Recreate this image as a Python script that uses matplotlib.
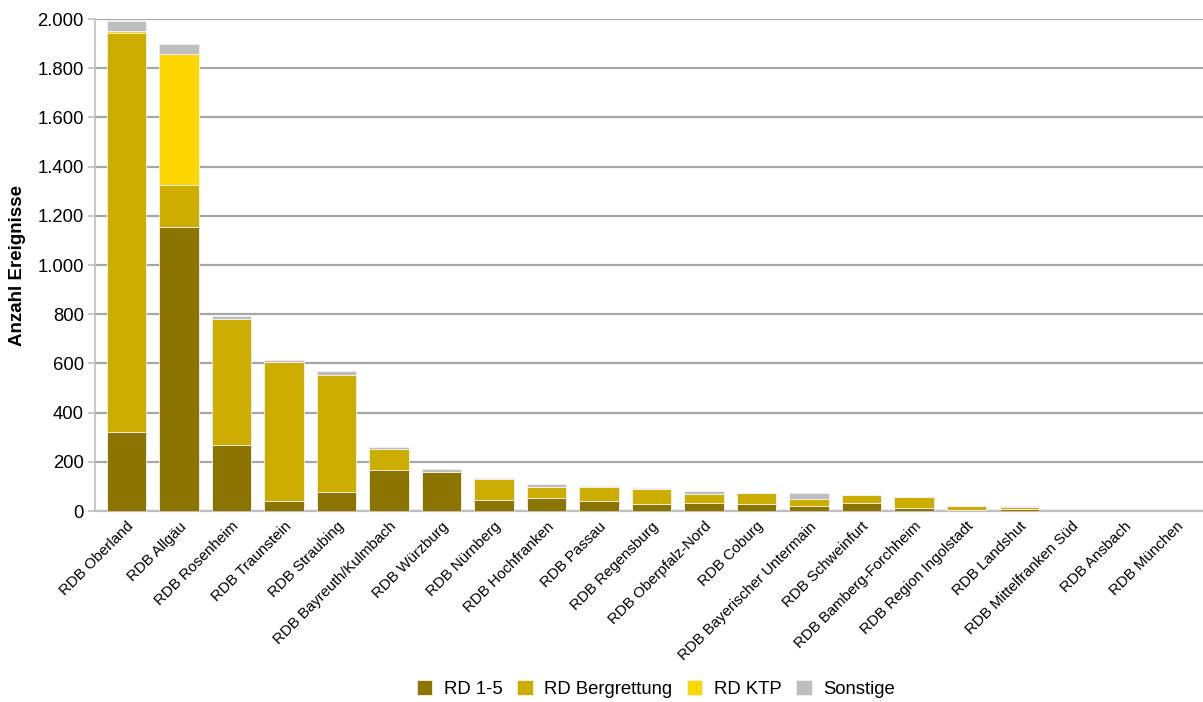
import matplotlib
matplotlib.use("Agg")
import matplotlib.pyplot as plt
import numpy as np
from matplotlib.ticker import FuncFormatter

plt.rcParams['font.family'] = ['Liberation Sans', 'DejaVu Sans']

# data
regions = ["RDB Oberland", "RDB Allgäu", "RDB Rosenheim", "RDB Traunstein",
           "RDB Straubing", "RDB Bayreuth/Kulmbach", "RDB Würzburg", "RDB Nürnberg",
           "RDB Hochfranken", "RDB Passau", "RDB Regensburg", "RDB Oberpfalz-Nord",
           "RDB Coburg", "RDB Bayerischer Untermain", "RDB Schweinfurt",
           "RDB Bamberg-Forchheim", "RDB Region Ingolstadt", "RDB Landshut",
           "RDB Mittelfranken Süd", "RDB Ansbach", "RDB München"]
rd_1_5 = [320, 1155, 268, 40, 77, 167, 158, 44, 53, 41, 27, 34, 30, 19, 33, 14, 4, 8, 0, 0, 0]
rd_berg = [1625, 170, 512, 564, 476, 85, 2, 86, 46, 57, 63, 36, 43, 28, 31, 42, 16, 10, 0, 0, 0]
rd_ktp = [8, 533, 0, 0, 0, 0, 0, 0, 0, 0, 0, 0, 0, 0, 0, 0, 0, 0, 0, 0, 0]
sonstige = [40, 40, 12, 8, 16, 8, 10, 3, 12, 2, 2, 11, 2, 25, 3, 2, 1, 1, 0, 0, 0]

series = [("RD 1-5", rd_1_5, "#8B7500"),
          ("RD Bergrettung", rd_berg, "#CDAD00"),
          ("RD KTP", rd_ktp, "#FFD700"),
          ("Sonstige", sonstige, "#BEBEBE")]

fig = plt.figure(figsize=(12.03, 7.02), dpi=100)
ax = fig.add_axes([95 / 1203, 191 / 702, 1108 / 1203, 492 / 702])

x = np.arange(len(regions))
bottom = np.zeros(len(regions))
for name, vals, col in series:
    vals = np.array(vals, dtype=float)
    ax.bar(x, vals, 0.75, bottom=bottom, color=col, label=name,
           edgecolor="#F2F2F2", linewidth=0.6, zorder=3)
    bottom += vals

ax.set_xlim(-0.6, 20.5)
ax.set_ylim(0, 2000)
ax.set_yticks(np.arange(0, 2001, 200))
ax.yaxis.set_major_formatter(FuncFormatter(lambda v, p: f"{int(v):,}".replace(",", ".")))
ax.grid(axis="y", color="#A6A6A6", linewidth=1.6, zorder=0)
ax.tick_params(axis="y", labelsize=13.3, length=5, color="#BFBFBF", width=1.2, pad=3)
ax.tick_params(axis="x", length=0, pad=6)
ax.set_xticks(x)
ax.set_xticklabels(regions, rotation=45, ha="right", rotation_mode="anchor", fontsize=10.8)
for s in ["top", "right"]:
    ax.spines[s].set_visible(False)
ax.spines["left"].set_color("#BFBFBF")
ax.spines["left"].set_linewidth(1.2)
ax.spines["bottom"].set_color("#BFBFBF")
ax.spines["bottom"].set_linewidth(1.6)
ax.set_ylabel("Anzahl Ereignisse", fontsize=13.5, fontweight="bold", labelpad=8)

handles, labels = ax.get_legend_handles_labels()
fig.legend(handles, labels, loc="center", bbox_to_anchor=(0.545, 1 - 689 / 702), ncol=4,
           frameon=False, fontsize=13.3, handlelength=0.85, handleheight=0.85,
           handletextpad=0.6, columnspacing=0.8)

fig.savefig("out.png", dpi=100)
